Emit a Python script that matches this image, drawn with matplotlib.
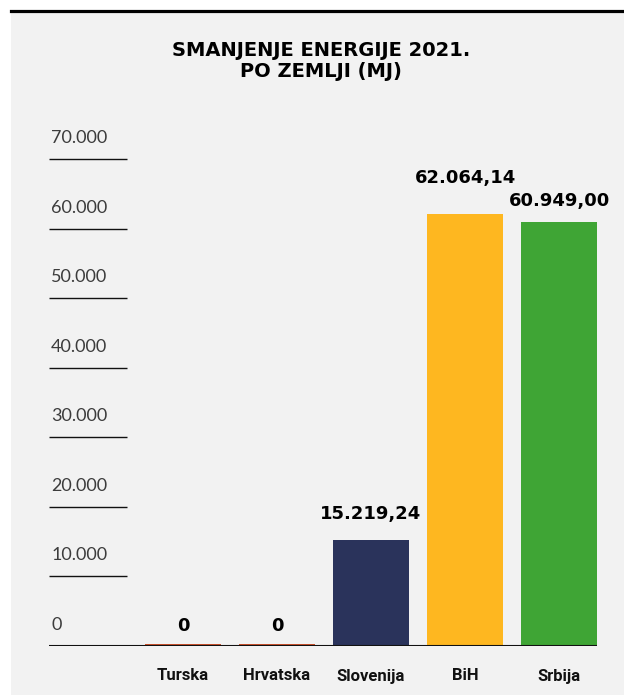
#!/usr/bin/env python3

import matplotlib
matplotlib.use('Agg')
import matplotlib.pyplot as plt
from matplotlib.patches import Rectangle
from matplotlib.lines import Line2D

import numpy as np


# data
countries = ['Turska', 'Hrvatska', 'Slovenija', 'BiH', 'Srbija']
values = [0, 0, 15219.24, 62064.14, 60949.00]
value_labels = ['0', '0', '15.219,24', '62.064,14', '60.949,00']
bar_colors = ['#c9502c', '#c9502c', '#2a335b', '#feb720', '#3fa535']

yticks = [0, 10000, 20000, 30000, 40000, 50000, 60000, 70000]
ytick_labels = ['0', '10.000', '20.000', '30.000', '40.000', '50.000', '60.000', '70.000']

title = 'SMANJENJE ENERGIJE 2021.\nPO ZEMLJI (MJ)'

# label offsets above the bar tops (points)
label_offsets = [14.5, 14.5, 18.5, 26, 15]

BG = '#f2f2f2'
W, H = 624, 695


def main():
    fig = plt.figure(figsize=(W / 100, H / 100), dpi=100)
    fig.patch.set_facecolor('white')

    # grey panel and black rule on top
    fig.patches.append(Rectangle((11 / W, 0), 1 - 11 / W, (H - 12) / H,
                                 transform=fig.transFigure, facecolor=BG,
                                 edgecolor='none', zorder=-5))
    fig.lines.append(Line2D([11 / W, 1], [(H - 11) / H] * 2,
                            transform=fig.transFigure, color='black', lw=2.3))

    fig.text(321 / W, (H - 61) / H, title, ha='center', va='center',
             family='DejaVu Sans', fontweight='bold', fontsize=14,
             linespacing=1.15, color='black')

    ax = fig.add_axes([49 / W, 49 / H, 548 / W, 521.8 / H])
    ax.set_facecolor('none')
    ax.set_zorder(2)
    for s in ax.spines.values():
        s.set_visible(False)
    ax.set_xticks([])
    ax.set_yticks([])

    x = np.arange(len(countries))
    ax.set_xlim(-1.4255, 4.404)
    ax.set_ylim(0, 75000)

    # zero bars still get a thin stub
    heights = np.maximum(values, 300)
    ax.bar(x, heights, width=0.8085, color=bar_colors, zorder=2)

    ax.axhline(0, color='#111111', lw=1.5, zorder=3)

    trans = ax.get_yaxis_transform()
    for v, lab in zip(yticks, ytick_labels):
        if v > 0:
            ax.plot([0, 0.142], [v, v], transform=trans, color='#111111', lw=1.0,
                    solid_capstyle='butt', clip_on=False)
        ax.annotate(lab, xy=(0.004, v), xycoords=trans, xytext=(0, 11.5),
                    textcoords='offset points', ha='left', va='baseline',
                    family=['Lato', 'DejaVu Sans'], fontweight='normal',
                    fontsize=13, color='#3c3c3c')

    for i, (v, lab) in enumerate(zip(values, value_labels)):
        ax.annotate(lab, xy=(i, v), xytext=(0, label_offsets[i]),
                    textcoords='offset points', ha='center', va='center',
                    family='DejaVu Sans', fontweight='heavy',
                    fontsize=13, color='black')
        ax.annotate(countries[i], xy=(i, 0), xytext=(0, -21.6),
                    textcoords='offset points', ha='center', va='center',
                    family=['Roboto', 'DejaVu Sans'],
                    fontweight='bold', fontsize=12, color='#111111')

    fig.savefig('out.png', dpi=100, facecolor=fig.get_facecolor())


if __name__ == "__main__":
    main()
